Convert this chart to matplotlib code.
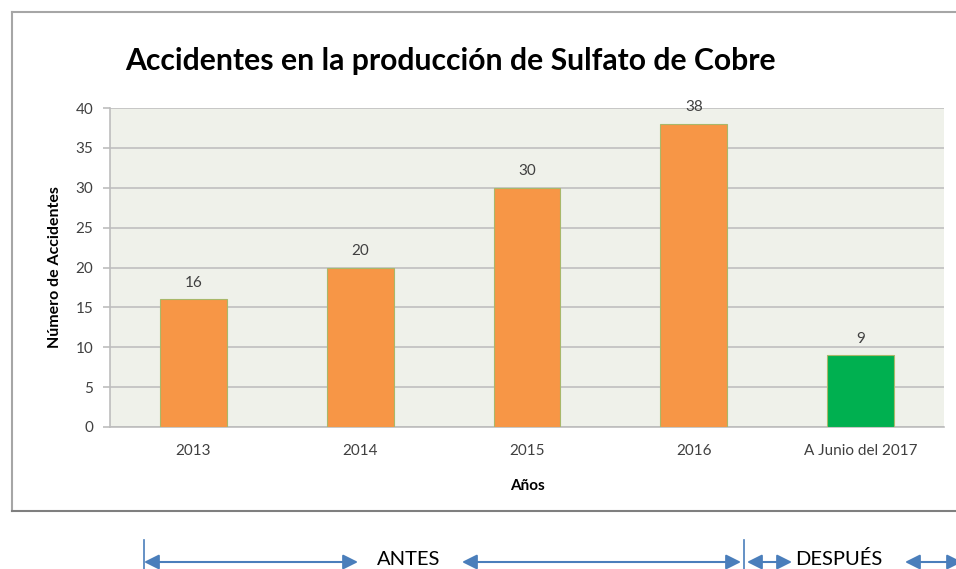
import matplotlib
matplotlib.use("Agg")
import matplotlib.pyplot as plt
from matplotlib.lines import Line2D

plt.rcParams['font.family'] = ['Lato', 'DejaVu Sans']

# datos de accidentes por periodo
categorias = ['2013', '2014', '2015', '2016', 'A Junio del 2017']
accidentes = [16, 20, 30, 38, 9]
colores = ['#F79646', '#F79646', '#F79646', '#F79646', '#00B050']
y_ticks = [0, 5, 10, 15, 20, 25, 30, 35, 40]

W, H = 956, 569
fig = plt.figure(figsize=(W / 100, H / 100), dpi=100)
fig.patch.set_facecolor('white')

ax = fig.add_axes([110 / W, 1 - 427 / H, (944 - 110) / W, (427 - 108) / H])
ax.set_facecolor('#EFF1EA')

x = range(len(categorias))
ax.bar(x, accidentes, width=0.4, color=colores, edgecolor='#A9B86A',
       linewidth=0.8, zorder=3)
for xi, v in zip(x, accidentes):
    ax.annotate(str(v), (xi, v), xytext=(0, 7), textcoords='offset points',
                ha='center', va='bottom', fontsize=11, color='#404040')

ax.set_xlim(-0.5, len(categorias) - 0.5)
ax.set_ylim(0, 40)
ax.set_yticks(y_ticks)
ax.set_xticks(list(x))
ax.set_xticklabels(categorias)
ax.grid(axis='y', color='#C6C6C6', linewidth=1.4, zorder=0)
ax.set_axisbelow(True)

for s in ['top', 'right']:
    ax.spines[s].set_visible(False)
for s in ['left', 'bottom']:
    ax.spines[s].set_color('#BDBDBD')
    ax.spines[s].set_linewidth(1.2)

ax.tick_params(axis='y', length=5, width=1.2, color='#BDBDBD', pad=7,
               labelsize=11, labelcolor='#404040')
ax.tick_params(axis='x', length=0, pad=12, labelsize=11, labelcolor='#404040')

ax.set_ylabel('Número de Accidentes', fontsize=11.5, fontweight='bold',
              labelpad=10)
ax.set_xlabel('Años', fontsize=11, fontweight='bold', labelpad=15)

fig.text(125 / W, 1 - 61 / H, 'Accidentes en la producción de Sulfato de Cobre',
         ha='left', va='center', fontsize=21.7, fontweight='bold', color='black')

# marco del gráfico
gris = '#A6A6A6'
fig.add_artist(Line2D([12 / W, 12 / W], [1 - 12 / H, 1 - 511 / H],
                      transform=fig.transFigure, color=gris, lw=1.5))
fig.add_artist(Line2D([12 / W, 1.0], [1 - 12 / H, 1 - 12 / H],
                      transform=fig.transFigure, color=gris, lw=1.5))
fig.add_artist(Line2D([12 / W, 1.0], [1 - 511 / H, 1 - 511 / H],
                      transform=fig.transFigure, color='#7F7F7F', lw=1.5))

# flechas de antes / después
azul = '#4A7EBB'
ya = H - 562
for xv in [144, 744]:
    fig.add_artist(Line2D([xv / W, xv / W], [0, 29 / H],
                          transform=fig.transFigure, color=azul, lw=1.2))
for x0, x1 in [(144, 358), (462, 741), (747, 792), (905, 962)]:
    ax.annotate('', xy=(x1, ya), xytext=(x0, ya), xycoords='figure pixels',
                textcoords='figure pixels', annotation_clip=False,
                arrowprops=dict(arrowstyle='<|-|>,head_length=0.9,head_width=0.45',
                                color=azul, lw=1.5, shrinkA=0, shrinkB=0))
fig.text(377 / W, 1 / H, 'ANTES', ha='left', va='bottom', fontsize=14.5,
         color='black')
fig.text(795 / W, 1 / H, 'DESPUÉS', ha='left', va='bottom', fontsize=14.5,
         color='black')

fig.savefig('out.png', dpi=100)
